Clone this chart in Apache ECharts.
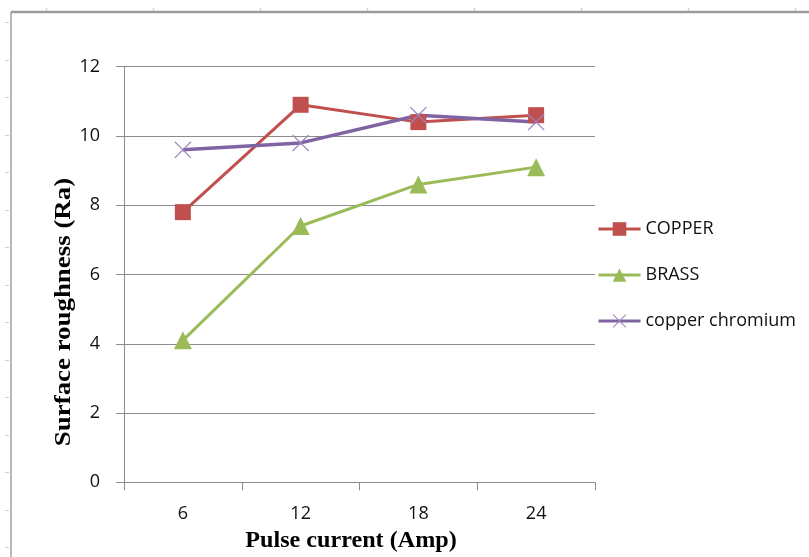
<!DOCTYPE html>
<html>
<head>
<meta charset="utf-8">
<script src="https://cdn.jsdelivr.net/npm/echarts@6/dist/echarts.min.js"></script>
<style>
  html, body { margin: 0; padding: 0; background: #fff; overflow: hidden; }
  #chart { width: 809px; height: 557px; }
</style>
</head>
<body>
<div id="chart"></div>
<script>
// Pulse current (Amp) on the x axis
const categories = ['6', '12', '18', '24'];

// Surface roughness (Ra) per electrode material
const copper = [7.8, 10.9, 10.4, 10.6];
const brass = [4.1, 7.4, 8.6, 9.1];
const copperChromium = [9.6, 9.8, 10.6, 10.4];

const yTicks = { min: 0, max: 12, interval: 2 };

const crossPath = 'path://M0,1L1,0L10,9L19,0L20,1L11,10L20,19L19,20L10,11L1,20L0,19L9,10Z';
const labelFont = '"Open Sans", "Liberation Sans", sans-serif';
const titleFont = '"Liberation Serif", "Times New Roman", serif';

// page frame with its faint ruler marks
const frame = [
  { type: 'line', shape: { x1: 11, y1: 12, x2: 11, y2: 557 }, style: { stroke: '#a0a0a0', lineWidth: 1.5 } },
  { type: 'line', shape: { x1: 11, y1: 12, x2: 809, y2: 12 }, style: { stroke: '#9a9a9a', lineWidth: 2.5 } }
];
for (let y = 22; y < 557; y += 37.5) {
  frame.push({ type: 'line', shape: { x1: 5, y1: Math.round(y) + 0.5, x2: 9, y2: Math.round(y) + 0.5 }, style: { stroke: '#cfcfcf', lineWidth: 1 } });
}
for (let x = 45.7; x < 809; x += 107) {
  frame.push({ type: 'line', shape: { x1: Math.round(x) + 0.5, y1: 8, x2: Math.round(x) + 0.5, y2: 11 }, style: { stroke: '#d0d0d0', lineWidth: 1.5 } });
}
// axis titles
frame.push({
  type: 'text', x: 64, y: 312, rotation: Math.PI / 2, scaleX: 1.12,
  style: {
    text: 'Surface roughness (Ra)', fill: '#000',
    font: 'bold 24px ' + titleFont,
    align: 'center', verticalAlign: 'middle'
  }
});
frame.push({
  type: 'text', x: 351, y: 541, scaleX: 1.05,
  style: {
    text: 'Pulse current (Amp)', fill: '#000',
    font: 'bold 23px ' + titleFont,
    align: 'center', verticalAlign: 'middle'
  }
});

const chart = echarts.init(document.getElementById('chart'), null, { renderer: 'canvas', width: 809, height: 557 });

chart.setOption({
  animation: false,
  backgroundColor: '#ffffff',
  textStyle: { fontFamily: labelFont },
  graphic: frame,
  grid: { left: 124, top: 66.7, width: 471, height: 415.6, containLabel: false },
  legend: {
    orient: 'vertical',
    left: 597, top: 220, padding: 0,
    itemWidth: 42, itemHeight: 17, itemGap: 28,
    lineStyle: { width: 3 },
    textStyle: { fontSize: 18, color: '#111', fontFamily: labelFont, padding: [0, 0, 0, 0] },
    data: ['COPPER', 'BRASS', 'copper chromium']
  },
  xAxis: {
    type: 'category',
    data: categories,
    boundaryGap: true,
    axisLine: { lineStyle: { color: '#8c8c8c', width: 1 } },
    axisTick: { show: true, length: 8, inside: false, lineStyle: { color: '#8c8c8c' } },
    axisLabel: { fontSize: 18, color: '#111', margin: 23 },
    splitLine: { show: false }
  },
  yAxis: {
    type: 'value',
    min: yTicks.min, max: yTicks.max, interval: yTicks.interval,
    axisLine: { show: true, lineStyle: { color: '#8c8c8c', width: 1 } },
    axisTick: { show: true, length: 8, inside: false, lineStyle: { color: '#8c8c8c' } },
    axisLabel: { fontSize: 18, color: '#111', margin: 24 },
    splitLine: { show: true, lineStyle: { color: '#8c8c8c', width: 1 } }
  },
  series: [
    {
      name: 'COPPER', type: 'line', data: copper,
      symbol: 'rect', symbolSize: 16,
      lineStyle: { color: '#c0504d', width: 3 },
      itemStyle: { color: '#c0504d' }
    },
    {
      name: 'BRASS', type: 'line', data: brass,
      symbol: 'triangle', symbolSize: 18,
      lineStyle: { color: '#9bbb59', width: 3 },
      itemStyle: { color: '#9bbb59' }
    },
    {
      name: 'copper chromium', type: 'line', data: copperChromium,
      symbol: crossPath, symbolSize: 17,
      lineStyle: { color: '#8064a2', width: 3.5 },
      itemStyle: { color: '#9b86c0' }
    }
  ]
});
</script>
</body>
</html>
